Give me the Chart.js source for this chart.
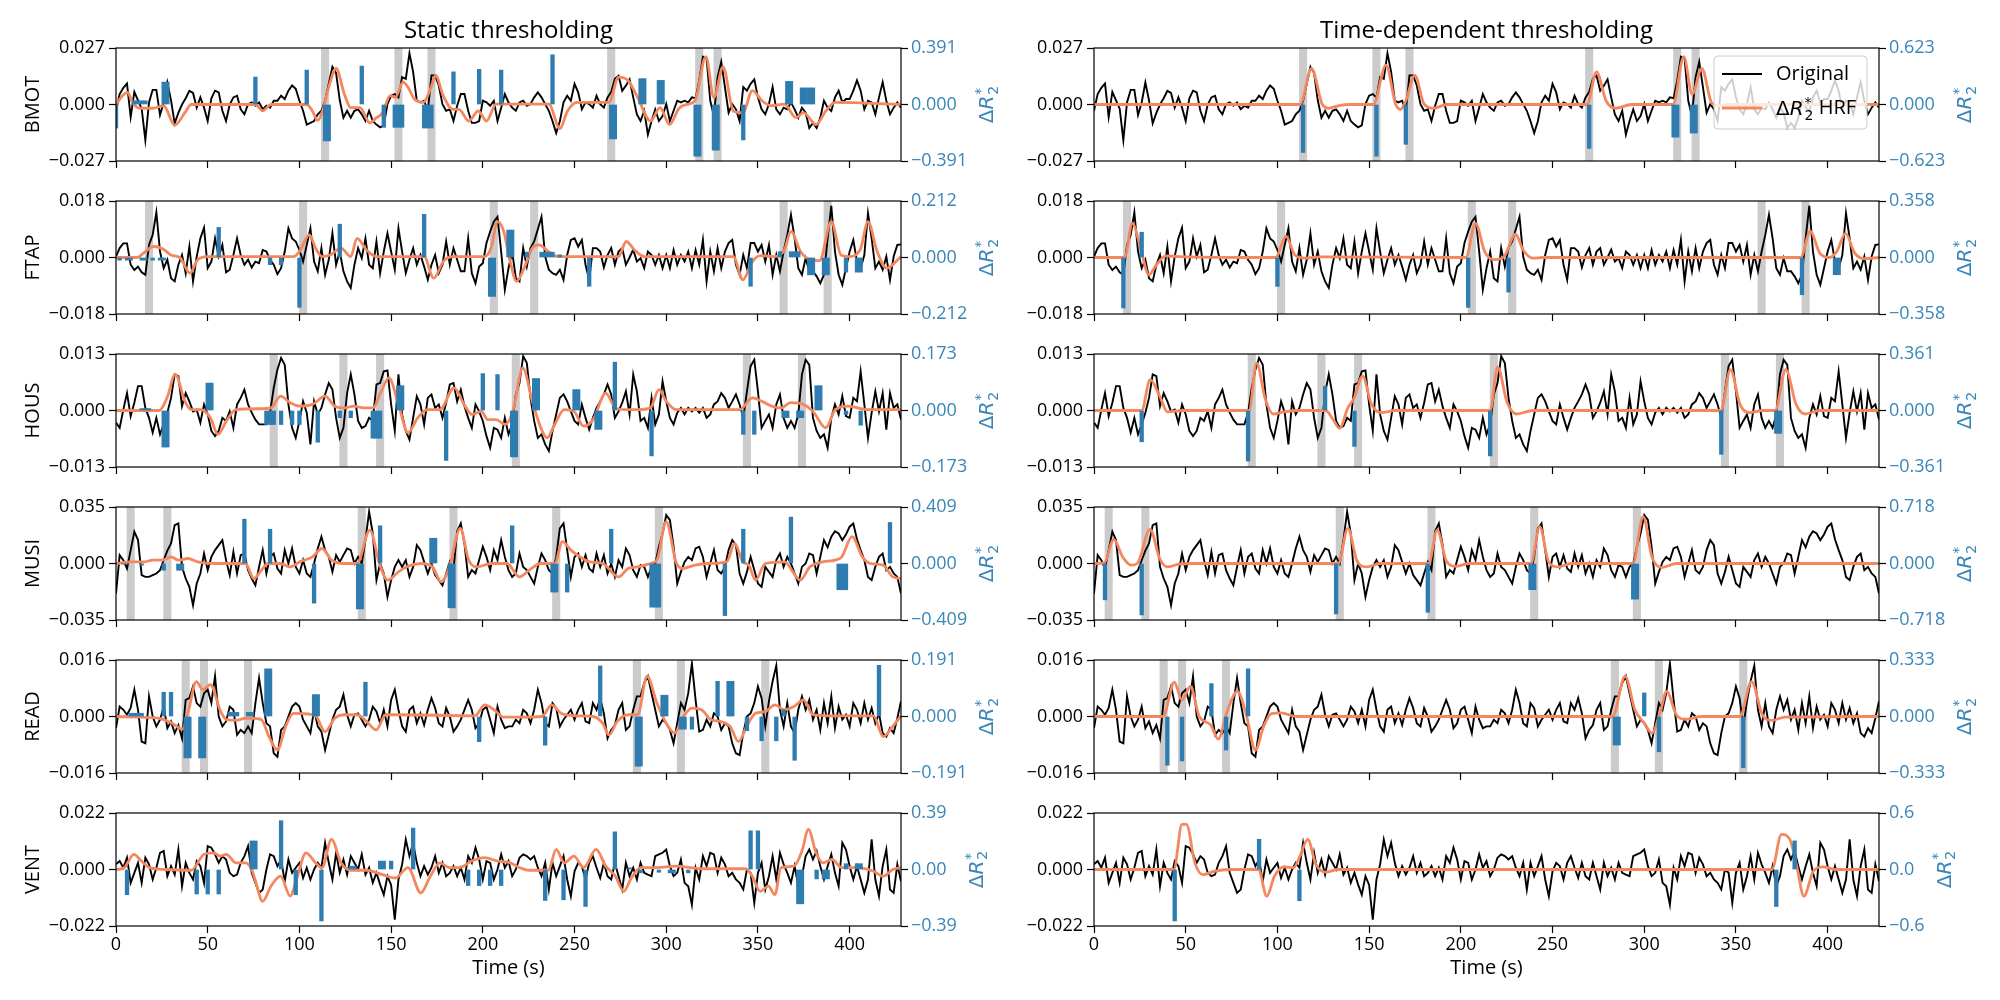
<!DOCTYPE html>
<html><head><meta charset="utf-8">
<script src="https://cdn.jsdelivr.net/npm/chart.js@4.4.1/dist/chart.umd.min.js"></script>
<style>
html,body{margin:0;padding:0;background:#fff;}
#wrap{position:relative;width:2000px;height:1000px;overflow:hidden;background:#fff;}
#wrap canvas{position:absolute;}
</style></head><body><div id="wrap"></div>
<script>
// ---------------- data (original signals & HRF in units of 1e-3) ----------------
const UNIT = 1e-3;
const TR = 2;
const tMax = 428;
const timeTicks = [0, 50, 100, 150, 200, 250, 300, 350, 400];
const rowNames = ['BMOT', 'FTAP', 'HOUS', 'MUSI', 'READ', 'VENT'];
const panelTitles = ['Static thresholding', 'Time-dependent thresholding'];

const leftLims = [0.027, 0.018, 0.013, 0.035, 0.016, 0.022];
const leftTickLabels = [
  ['\u22120.027', '0.000', '0.027'], ['\u22120.018', '0.000', '0.018'], ['\u22120.013', '0.000', '0.013'],
  ['\u22120.035', '0.000', '0.035'], ['\u22120.016', '0.000', '0.016'], ['\u22120.022', '0.000', '0.022']];
const staticLims = [0.391, 0.212, 0.173, 0.409, 0.191, 0.39];
const staticTickLabels = [
  ['\u22120.391', '0.000', '0.391'], ['\u22120.212', '0.000', '0.212'], ['\u22120.173', '0.000', '0.173'],
  ['\u22120.409', '0.000', '0.409'], ['\u22120.191', '0.000', '0.191'], ['\u22120.39', '0.00', '0.39']];
const timeLims = [0.623, 0.358, 0.361, 0.718, 0.333, 0.6];
const timeTickLabels = [
  ['\u22120.623', '0.000', '0.623'], ['\u22120.358', '0.000', '0.358'], ['\u22120.361', '0.000', '0.361'],
  ['\u22120.718', '0.000', '0.718'], ['\u22120.333', '0.000', '0.333'], ['\u22120.6', '0.0', '0.6']];

const bmotOrig = [
-3,5,8,10,-6,6,2,-2,-17,1,
7,7,-5,1,10.5,2,-9,-4,0,3,
6.5,5.5,-1.5,3.4,-1.5,-7.9,3,6.6,5.8,-3,
-7.9,0,3.4,4.2,-2.3,-4.7,0.2,1,-0.6,1,
-2.3,-0.6,-1.5,1.8,1.8,4.2,2.6,6.6,9.1,7.5,
1.8,-3,-9.6,-8.8,-7.9,-4.7,-3,1.8,9.9,18,
15,2,-6.3,-3,-6.3,-3,-2.3,-4.7,-7.9,-3,
-7.9,-9.6,-10.9,-10,0.2,4.2,5,3.4,13.1,12.3,
24.5,15.6,1.8,1,1.8,-3,13.9,13.9,9.1,0.2,
-3,-2.3,-7.9,-0.6,5,5,-3,-8.8,-8.8,-7.9,
1.8,1,-0.6,1.8,-7.9,-1.5,5,1,-1.5,-3,
1,1.8,-0.6,0.2,3.4,5.8,3.4,0.2,-3,-8,
-13.6,-8,1,4.2,1.8,9.9,5.8,-2.3,1,0.2,
-1.5,4.2,0.2,-1.5,3.4,6,12.3,13.8,6.6,9,
12,3.4,-4.7,-7.9,-3,-14.4,-7.9,-2.3,-7.9,-5.5,
0.2,-7.9,-3,1.8,1,1.8,1,3.4,3,11.5,
22.9,22,1.8,-5.5,13.1,20.4,8.3,-3.9,0.2,-2.3,
-7.9,8.3,6.6,9.9,12,3.4,-2.3,-4.7,0.2,8.3,
-2.3,-4.7,-1.5,-2.3,1,-2.3,-6.3,-1.5,-3.9,-11.2,
-8.8,-11.2,-6.3,1.8,-1.5,-3.1,3.4,6.6,1,2.6,
2.6,6.6,11.5,6.6,-2.3,1.8,1,-4.7,3.4,10.7,
1.8,-4.7,-1.5,1,-1.5];

const ftapOrig = [
0.3,3,4.5,4.5,-2.3,-4,-2.9,-4.7,-5.5,4,
7.2,14.4,1.9,-3.4,-0.7,-6.6,-7.6,-2.3,0.8,-5,
3.5,-7.6,0.3,6.1,9.5,-3.4,-1.3,6.1,0.3,4,
-4.7,-3.9,0.8,6.1,0.8,-2.3,-0.7,-3.2,-1.3,-1.8,
2.4,1.9,-0.7,-2.3,-5.3,-3.4,1.9,9.3,6.1,5.1,
2.4,-1.3,4,9.3,-1.3,-4.4,3,-5.5,-0.7,7.7,
-2.3,1.9,-4.4,-7.6,-9.7,-2.3,3,-0.2,6.1,-2.3,
-3.4,5.1,-5,1.9,7.7,1.9,-3.9,9.3,1.9,-5,
-0.7,3,-2.3,0.8,-2.9,-7.1,-2.3,0.8,-5,-2.3,
5.1,-2.3,3,-0.7,-4.4,-4.4,6.1,-5,-8.2,-2.9,
-1.8,4.6,8.3,11.4,13,1.9,-10.3,-3.4,1.9,-6.6,
-7.6,3,-2.9,3,5.1,9,13,0.3,-3.9,-5,
-5.5,-3.9,-7.1,0.8,5.6,6.1,3.5,5.6,-2.3,-7.1,
3,3,1.9,-3.2,0.8,3,-2.3,1.9,3,-2.3,
0,2.5,-1.3,-0.2,-3.4,1.9,0.8,-2.3,0.8,-3.4,
0.8,-3.4,2.4,-2.3,0.8,-1.3,1.9,-3.4,2.4,-2.3,
5.6,-7.6,1.9,-4.4,3,-3.4,1.9,4.6,5.6,-2.3,
-5.5,0.8,-3.4,4.6,4.6,1.9,4,-1.3,4,-5.5,
0.8,-4.4,1.9,7.2,13.6,6.1,-3.4,-5.5,-0.2,-4.4,
-4.4,-6,-8.2,-5.5,6.1,16.5,1.9,-5.5,-8.7,-3.4,
1.9,5.6,-1.3,-3.4,0.8,14.1,6.1,-3.4,-1.3,-3.9,
0.3,-7.1,0.3,4,4.2];

const housOrig = [
-2.8,-4,0.2,4,-1.3,1.8,5.6,5.6,0.6,-1.7,
-5.1,-1.7,-5.5,-3.2,-0.5,2.9,8.3,7.9,1,4,
2.1,-0.2,0.2,-2.8,1.4,-0.9,-4.7,-5.9,-4.7,-1.7,
-2.4,-0.2,-4,1.4,2.9,4.8,1.4,-0.5,-2.1,-3.2,
-3.2,-3.2,-0.5,5.2,9.4,12.1,10.5,1.4,-4,-6.3,
-2.4,2.1,-0.5,-7.8,2.1,-0.9,0.6,3.7,6.3,4.8,
-1.7,-6.3,-4,4,8.3,3.7,-2.4,-4,-3.6,-1.7,
-2.4,6,6.3,9,9.2,1.4,-4.7,8.3,-0.9,-4.7,
-6.7,-1.7,3.3,1.4,-3.2,2.9,3.7,0.6,1.4,-1.7,
1.8,6,6.3,2.1,4.8,1,-1.7,-4,1.4,-0.2,
-2.4,-5.9,-8.6,-4,-4.4,-6.3,-1.7,-5.5,-3.2,3.7,
6.3,12.5,10.9,2.9,-2.4,-6.3,-5.5,-7.8,-9.3,-4.7,
-0.9,2.9,3.7,2.1,-0.2,-2.4,-3.2,1.4,-1.7,-4.4,
-1.7,0.6,2.1,3.7,6,3.7,-1.7,-0.2,1.8,4.4,
-0.9,8.3,4.4,-2.4,-1.7,-4,2.9,-3.2,-0.9,6.7,
2.1,-1.7,-3.2,-0.5,0.6,-0.9,0.6,-0.2,0.6,-0.5,
0.6,-1.7,-0.9,1.4,2.1,4,2.9,0.6,2.1,3.7,
1.4,-1.7,4.4,10.2,11.7,4.4,-4,-2.4,-0.9,-4,
1.4,3.7,-1.7,-4,-2.4,-4,-0.9,8.3,11.7,10.5,
-1.7,-4.7,-6.3,-5.5,-8.6,-1.7,1.4,-0.9,3.3,-1.3,
-1.7,2.9,2.1,9,1.4,-6.3,-0.5,4.4,-0.2,4,
-4.4,4,0.6,1.4,-2.1];

const musiOrig = [
-18.6,5.2,2.1,-3.1,8.3,19.7,14.5,-7.2,-8.3,-8.3,
-7.2,-6.2,-4.1,2,8,12.4,23.8,24.8,-2.1,-9.3,
-14.5,-25.9,-12.4,-6.2,6.2,-4.1,4.1,8.3,11.4,14.5,
2.1,-7.2,7.2,-6.2,5.2,6.2,-4.1,-9.3,-13.5,-2.1,
8.3,-6.2,4.1,6.2,-3.1,-6.2,8.3,0,9.3,-2.1,
-6.2,2.1,-6.2,-8.3,0,9.3,16.6,8.3,4.1,-5.2,
5.2,1,5.2,9.3,8.3,0,4.1,0,14.5,32.1,
18.6,-10.3,0,-6.2,-20.7,-10.3,-2.1,2.1,-2.1,2.1,
-8.3,-2.1,11.4,8.3,1,-6.2,0,-7.2,-10.3,-13.5,
-6.2,1,-4.1,20,24.8,12,-8.3,-4.1,-6.2,2.1,
10.4,4.1,-4.1,8.3,2.1,14.5,4.1,-4.1,-8.3,-6.2,
6.2,-2.1,-4.1,-8.3,-12.4,-2.1,6.2,2.1,-4.1,-6.2,
4.1,21.7,24.8,8.3,-8.3,4.1,6.2,-2.1,5.2,-3.1,
-5.2,6.2,-2.1,5.2,-6.2,0,-8.3,2.1,-2.1,9.3,
5.2,-4.1,-8.3,-1,-2.1,-8.3,-2.1,0,10.4,18.6,
30,27,10.4,-12.4,-5.2,1,4.1,2.1,9.3,10.4,
4.1,-8.3,0,8.3,-4.1,-6.2,-2.1,8.3,14.5,11.4,
-6.2,-12.4,-5.2,4.1,-4.1,-12.4,-14.5,-2.1,-5.2,-8.3,
2.1,6.2,-2.1,4.1,0,-6.2,-12.4,-2.1,0,6.2,
5.2,-6.2,4.1,14.5,10,16.6,20,18.6,14.5,18,
22.8,24.8,15,8.3,2.1,-8.3,-10.3,-2.1,4.1,6.2,
-4.1,-2.1,-6.2,-8.3,-18.6];

const readOrig = [
-3.3,2.8,1.9,0.5,2.4,7.6,1.9,-7.1,-7.6,5.7,
0,-2.8,-0.9,2.8,-3.3,-1.4,-4.7,-2.4,-6.2,4.7,
5.2,8.5,3.8,2.8,6.6,7.6,3.8,11.4,0,-2.8,
-1.4,2.8,1.9,-5.2,-3.8,-4.7,-2.8,-4.7,3.8,10.9,
3.8,-1.9,-2.8,-10.4,-11.4,-3.8,-2.8,0,2.8,3.8,
2.8,-0.9,-2.8,-4.7,1.9,-2.8,-4.3,-9.5,-5.2,-0.9,
1.9,2.8,6.2,0.5,-2.8,0.5,0.9,-0.9,-2.8,-0.9,
2.8,1.4,-1.9,1.9,-2.8,4.7,7.6,1.9,-2.8,-4.3,
1.9,2.8,-1.9,0.9,-2.4,1.9,5.2,2.4,-1.9,-2.8,
2.4,0,-4.3,-2.8,-0.9,1.9,4.7,1.9,-3.3,-1.9,
1.9,2.8,-0.9,-4.7,2.8,-0.9,-3.3,-2.8,-2.8,-0.9,
-1.9,1.9,0.9,-1.9,1.9,7.6,3.8,-1.9,-2.8,3.8,
2.4,-2.8,-0.9,0.5,1.9,-0.9,1.9,3.8,-1.4,-1.9,
3.8,1.9,5.2,0.9,-6.2,-3.8,-2.4,1.9,3.8,-3.8,
-2.8,1.9,5.7,5.7,9.5,11.4,6.6,1.9,-2.8,-0.9,
-1.9,-3.8,-7.6,-1.9,3.8,1.9,6.6,15,4.7,-4.3,
-3.8,-0.9,-2.8,0.9,0,-3.8,-1.9,-2.8,-7.6,-10.4,
-10.9,-4.7,0,0.9,3.8,8.5,5.2,-2.8,4.3,10,
14.4,1.9,-2.8,3.8,-2.8,-4.7,1.9,5.7,1.9,4.7,
-0.9,1.9,-3.8,3.8,-1.9,5.7,-3.3,2.8,-0.9,0.5,
-2.8,3.8,1.9,-1.9,3.8,-0.9,2.4,-1.9,0.9,-4.7,
-5.7,-3.3,-4.7,-0.5,4.3];

const ventOrig = [
2,3.3,0.7,4.6,-5.2,-1.3,2.6,-5.2,4.6,2,
-3.9,0.7,6.5,7.2,-2.6,1.3,-2,7.8,-6.5,2.6,
-1.3,-3.9,3.3,1.3,-5.2,9.1,8.5,5.9,2.6,5.2,
3.9,-1.3,-2.6,-2,2.6,5.2,9.1,-1.3,-5.2,-9.1,
-7.8,0,5.9,5.2,1.3,3.9,-4.6,3.9,-1.3,0.7,
2.6,-3.3,0.7,-3.9,0,2.6,0.7,10.4,2.6,-3.9,
6.5,-1.3,3.9,-2,5.2,2.6,0,5.9,-2,0.7,
-5.2,-1.3,-5.9,-9.8,-2.6,-6,-19.5,-3.9,2,11.7,
5.2,10.4,2.6,-2.6,1.3,-2,0.7,5.2,-1.3,2.6,
-2.6,-1.3,1.3,-2.6,0.7,-3.9,5.2,2.6,8.5,3.9,
-3.9,3.3,2.6,-3.9,0,5.9,0.7,3.3,-2.6,0,
4.6,5.9,5.2,3.9,5.2,0.7,-2.6,2.6,-7.8,2.6,
-2.6,1.3,5.2,-3.9,-10.4,-0.7,2.6,1.3,-3.9,2.6,
5.2,0.7,-3.3,2.6,-2.6,-3.9,2.6,-2.6,-7.8,2.6,
-2.6,0.7,-3.9,2.6,-1.3,-2,-2.6,5.2,5.9,6.5,
7.8,1.3,-2.6,-1.3,3.9,-5.2,-6.5,-13.7,0.7,-3.9,
5.2,1.3,6.5,5.9,-1.3,4.6,2,-2.6,-1.3,-3.9,
-5.2,-7.8,0,-1.3,-13,-1.3,2.6,-7.8,-2.6,5.2,
-3.9,6.5,2,-1.3,-5.2,1.3,-6.5,-2.6,5.2,7.8,
3.9,7.2,1.3,-3.9,1.3,5.9,-1.3,-6.5,10.4,7.8,
1.3,-3.9,1.3,-3.9,-9.1,-3.9,11.7,-3.9,-10.4,1.3,
7.8,-7.8,-9.1,2,-4.6];

// HRF-convolved curves: [time (s), value (1e-3)]
const bmotHrfStatic = [[0,0],[3.5,4.2],[6.3,5.8],[9,1],[13,-1.8],[20,-1.8],[26,-0.6],[32,-9.9],[37.6,-3.9],[41,0],[76,0],[80,-3],[84.5,0],[104,0],[107,-3],[110,-7.6],[113,-2],[116,8.3],[120,17.2],[124.5,5],[128,-1.5],[133,-1.5],[138.4,-8.8],[142,-6.3],[145.3,-4],[149.5,4.2],[152.3,3.4],[156.5,10.7],[159.2,8.3],[162.7,2.6],[167.6,1],[171.8,8.3],[174.2,13.9],[178.4,4.2],[183.6,-2.3],[187,-2.3],[192.3,-7.9],[197.5,-3.1],[202,-7.9],[207.2,0.2],[236,0.2],[242,-11.5],[246.2,-3.1],[251.4,1],[268.8,1],[274,13.1],[279.2,11.5],[284.4,3.4],[291.4,-7.9],[296.6,-1.5],[301.8,-9.6],[307,-1.8],[312.2,0.2],[315.7,1.8],[321.6,22.9],[326,3.4],[331,18],[336.6,-3.1],[341.8,-3.9],[347,6.6],[352.2,1.8],[357.4,-0.6],[364.4,0.2],[370.7,-6.3],[374.8,-3.9],[381.7,-9.6],[387,-3.1],[392.2,1],[428,0]];
const bmotHrfTime = [[0,0],[112.3,0],[118.6,17.2],[124.5,0],[128,-1.8],[133,-0.6],[140,0],[152.3,0],[159.2,18.8],[164.5,0],[167.2,-2.3],[170,1.8],[174.9,13.9],[180,0.2],[185.3,-1.8],[192.3,0],[268.8,0],[274,15.6],[279.2,1.8],[284.4,-1.8],[293,0],[315.7,0],[321.6,22.9],[326.1,5],[331.4,17.2],[336.6,1],[340,-0.6],[345,0],[428,0]];
const ftapHrfStatic = [[0,0],[11.5,0],[16,1.9],[20.2,3.5],[25.4,2.8],[30,0.8],[35.1,-0.2],[40.3,-5],[44.5,-0.7],[49.7,0.3],[96.7,0.3],[100,1.9],[105.4,7.2],[108.8,3],[112.3,0.3],[116.8,0.8],[122.7,3],[128,0.3],[131.4,6.1],[136.6,2.4],[141.9,0.3],[168,0.3],[173.2,-6.6],[178.4,-1.3],[183.6,0.3],[201,0.3],[204.5,3],[208,11.4],[211.4,8.3],[214.9,-1.3],[218.4,-7.6],[222.5,-3.4],[227,3],[230.5,4],[235.7,1.9],[241,0.3],[274,0.3],[278.2,5.1],[282.7,2.4],[288,0.3],[336.6,0.3],[341.8,-7.1],[347,-1.3],[351.2,0.6],[359.2,0.3],[364.4,2.4],[368,8.3],[373.2,1.9],[378.4,-0.7],[383.6,-1],[390,11.4],[395.3,0.8],[399.4,0.3],[405.7,2.4],[410,11.4],[415,1.9],[420.2,-3.4],[428,0.3]];
const ftapHrfTime = [[0,0],[16.7,0],[20.9,10.9],[25.4,3],[29.9,-5.5],[34,-2.3],[39.3,0.5],[46.2,0.3],[99,0],[104.7,6.7],[109.5,0.8],[115.1,-0.2],[122.7,0.2],[202.7,0],[208,10.9],[213,1.9],[218.4,-0.7],[223.6,0.3],[229.8,7.4],[234,2.4],[239.2,-0.2],[245,0],[385.3,0],[390.5,8.3],[395.7,1.4],[401,0],[405,1.9],[409.7,7.7],[414.8,1.4],[420,-0.4],[428,0]];
const housHrfStatic = [[0,0],[23.6,0],[27.8,2.9],[32.3,8.3],[37.6,2.1],[41,0.2],[46.2,0.2],[51.5,-1.7],[55.6,-5.5],[60.2,-2.4],[65.4,0.2],[79.3,0.4],[84.5,0.6],[89.7,3.3],[95,1.8],[100.1,1],[107.1,1.4],[114,3.3],[119.3,1],[124.5,0.6],[129.7,1],[134.9,0.6],[140.1,0.6],[144.6,4.4],[148.8,7.5],[154,1.4],[159.2,-5.1],[164.5,-1.7],[169.7,0.2],[176.6,0.2],[184.3,5.2],[189.8,1.4],[194,-0.9],[199.2,-0.2],[202.7,-2.1],[207.2,-2.1],[212.4,-3.2],[216.6,0.2],[221.8,9.8],[227,2.1],[232.3,-4.7],[235,-6.3],[239.2,-3.2],[244.4,0.2],[249.7,-0.2],[254.9,-3.6],[260.1,-2.1],[267,4],[272.3,0.6],[277.5,0.2],[284.4,0.2],[291.4,0.6],[296,4.8],[300,2.1],[305.3,0.2],[340,0.2],[347,2.9],[352.2,2.1],[357.4,1],[362.5,0.6],[367.9,1.8],[374.8,1.4],[380,-0.2],[387,-4],[392.2,0.2],[399.2,1],[409.6,0.2],[428,0.2]];
const housHrfTime = [[0,0],[26,0],[30.6,7.1],[35.8,3.3],[40,-0.3],[48,0],[84.5,0],[88.7,10.9],[93.2,2.9],[97.7,-0.8],[103.6,-0.3],[112.3,0],[126.2,0],[130.4,-2.1],[133.9,-4.1],[138.4,0.6],[141.9,2.9],[146.4,7.9],[151.3,1.4],[156.5,-0.5],[164.5,0],[216,0],[220,10],[225.3,1.8],[230.5,-0.8],[239.2,0],[341.8,0],[347,9.4],[352.2,1.4],[357.4,-0.5],[364.4,0],[371.3,0],[377.2,9.4],[382.8,1.4],[387.7,-0.8],[395.7,0],[428,0]];
const musiHrfStatic = [[0,0],[8,1],[15,1],[20.2,2.1],[25.4,2.1],[30,4.1],[34,2.1],[39.3,3.1],[44.5,1],[55,0],[70.6,0],[75.1,-9.3],[79.3,-4.1],[82.8,0],[89.7,0],[95,-2.1],[100.1,1],[107.1,4.1],[112.3,9.3],[117.5,2.1],[124.5,0],[131.4,0],[138.4,20.7],[143.6,0],[148.1,-10.3],[154,-5.2],[159.2,-1.7],[166.2,0],[172.5,-2.1],[177.3,-11.4],[181.8,-2.1],[187.7,21.7],[192.3,2.1],[196.8,-2.1],[204.5,0],[213.1,0],[220.1,-8.3],[225.3,-4.1],[231.6,0],[239.2,0],[243.4,13.5],[248,8.3],[253.1,4.1],[258.3,1],[265.3,0],[274,-8.3],[279.2,-3.1],[284.4,-2.1],[291.4,0],[294.9,2.1],[300,25.9],[305.3,1],[308.8,-3.1],[315.7,-1],[322.7,0],[333,1],[337.3,12.4],[341.8,1],[345,-1],[348.7,-10.3],[354,0],[364.4,1],[373.1,-10.3],[378.3,-2.1],[385.3,1],[392.2,2.1],[395.7,4.1],[401.3,16.6],[406.9,4.1],[411.3,0],[418.3,-1],[423.5,-8.3],[428,-9.3]];
const musiHrfTime = [[0,0],[5.6,0.4],[10.8,14.9],[15.6,4.1],[20.2,-1],[23.6,0],[30.6,21.1],[35.8,3.1],[40,-2.1],[46.2,-0.4],[53.2,0],[133.2,0],[138.4,21.7],[143.6,1],[148.8,-2.1],[155.8,0],[182.5,0],[187.1,20.7],[192.3,1],[197.5,-1.7],[204.5,0],[238.2,0],[243,22.8],[247.9,1],[253.1,-2.1],[260.1,0],[293.8,0],[299.4,29],[304.2,4.1],[309.5,-2.5],[317.5,0],[428,0]];
const readHrfStatic = [[0,0],[13.2,-0.2],[23.6,-0.5],[30.6,-1.9],[36.2,-3.6],[39.6,1.9],[43.8,9.9],[47.3,7.6],[51.5,9],[56.7,1.9],[60.2,-0.9],[65.4,-1.1],[70.6,-0.5],[74,-0.5],[79.3,-0.9],[83.4,-5.7],[88,-9.5],[92.5,-2.8],[96.7,0.9],[101.9,0.8],[108.8,0.2],[114,-4.3],[119.3,-0.5],[124.5,0.5],[131.4,0.5],[136.6,-1.4],[141.9,-3.8],[147.1,0.5],[154,0.5],[195.8,0.2],[201,3.3],[206.2,1.9],[211.4,-0.2],[221.8,-0.2],[232.3,0],[237.5,3.3],[242.7,0.9],[249.7,0.2],[260.1,0],[265.3,-1.9],[268.8,-5.2],[273.3,-1.4],[279.2,0.5],[284.4,0.5],[289.6,11.4],[294.9,3.8],[300,-1.9],[304.6,-4.7],[308.8,-0.5],[314,2.4],[319.2,1.9],[324.4,-0.9],[329.6,-1.4],[334.8,-2.8],[339.4,-7.1],[344.2,-2.4],[348.7,0.9],[354,1.4],[359.2,3.3],[364.4,1.9],[369.6,2.8],[374.8,4.7],[380,0.5],[388.7,0.2],[413,0.2],[418.3,-5.7],[423.5,-2.8],[428,0.2]];
const readHrfTime = [[0,0],[37.6,0],[43.8,9.7],[48,4.7],[52.5,8.5],[57.4,0],[63.6,-2.4],[67.8,-6.4],[72.3,1],[78.2,7.1],[82.8,1],[88,-9.5],[92.5,-2.8],[96.7,0.8],[101.9,1],[110.6,0],[282.7,0],[289.6,11.4],[294.9,1.9],[300.1,-1.9],[304.2,-4.7],[308.8,1.4],[312.2,7.1],[317.5,0.5],[322.7,-0.8],[331.4,0],[352.2,0],[358.5,9.9],[364.4,0.5],[369.6,-1.1],[376.6,-0.2],[428,0]];
const ventHrfStatic = [[0,0],[4.5,0.7],[9.7,5.9],[13.9,3.3],[18.4,0.7],[27.1,0],[41,-0.3],[48,5.9],[53.2,6.5],[56.7,5.2],[60.2,5.9],[65.4,2.6],[70.6,2.6],[74,0],[75.8,-3.9],[80,-12.4],[84.5,-6.5],[89.7,-2.6],[95,-10.4],[98.4,-3.9],[103.6,6.5],[108.8,2.6],[112.3,0.7],[117.5,11.7],[122.7,2.6],[128,-0.3],[136.6,-0.3],[145.3,-2],[152.3,-3.3],[159.2,0.7],[166.2,-9.1],[171.4,-2.6],[176.6,2.6],[181.8,0.7],[187,0.7],[194,3.3],[201,4.6],[208,3.3],[215,2.6],[220.1,0.7],[225.3,-0.3],[235.7,-0.3],[240,7.8],[244.4,2.6],[249.7,5.2],[254.9,0.7],[261.8,7.8],[267,1.3],[272.3,-2.6],[276.8,-8.5],[281,-3.3],[286.2,0.7],[294.9,0.7],[305.3,1.3],[319.2,0.3],[343.4,0.3],[346.9,-2.6],[351.2,-8.5],[355.7,-6.5],[359.2,-9.8],[362.6,0.7],[369.6,1.3],[374,7.2],[377.5,15.6],[381.7,6.5],[385.3,2.6],[390.5,3.9],[395.7,0.7],[404.4,0.7],[413,-0.7],[418.3,-2.6],[423.5,0],[428,0.7]];
const ventHrfTime = [[0,0],[43.5,0],[48,17.6],[50.4,17.6],[55,2.6],[59.5,-2],[65.4,-0.7],[74,0],[89.7,0],[94.2,-10.4],[98.4,-2.6],[103.6,1],[108.8,0.7],[112.3,5.2],[116.5,11.7],[121,2],[126.2,-1],[133.2,0],[369.6,0],[374.8,13.7],[379.4,11.7],[383.5,0],[387,-10.4],[392.2,-0.7],[397.4,1],[404.4,0],[428,0]];

// Delta R2* estimates: [time (s), value]
const bmotBarsStatic = [[0,-0.163],[10,0.026],[12,0.026],[14,0.026],[16,0.026],[26,0.155],[28,0.155],[76,0.19],[104,0.238],[114,-0.252],[116,-0.252],[134,0.266],[146,-0.158],[152,-0.158],[154,-0.158],[156,-0.158],[168,-0.163],[170,-0.163],[172,-0.163],[184,0.226],[198,0.243],[210,0.238],[238,0.344],[270,-0.238],[272,-0.238],[286,0.179],[288,0.179],[296,0.167],[298,0.167],[316,-0.358],[318,-0.358],[326,-0.316],[328,-0.316],[342,-0.245],[366,0.16],[368,0.16],[374,0.115],[376,0.115],[378,0.115],[380,0.115]];
const bmotBarsTime = [[114,-0.529],[154,-0.57],[170,-0.439],[270,-0.484],[316,-0.36],[318,-0.36],[326,-0.315],[328,-0.315]];
const ftapBarsStatic = [[2,-0.01],[6,-0.01],[8,-0.01],[14,-0.01],[16,-0.01],[20,-0.01],[24,-0.01],[26,-0.01],[56,0.113],[84,-0.027],[90,-0.027],[100,-0.187],[122,0.125],[168,0.162],[204,-0.146],[206,-0.146],[214,0.103],[216,0.103],[224,0.02],[232,0.02],[234,0.02],[236,0.02],[238,0.02],[242,0.01],[258,-0.108],[346,-0.108],[362,0.022],[368,0.022],[370,0.022],[372,0.022],[378,-0.065],[380,-0.065],[386,-0.065],[388,-0.065],[398,-0.055],[404,-0.055],[406,-0.055]];
const ftapBarsTime = [[16,-0.32],[26,0.16],[100,-0.183],[204,-0.316],[226,-0.219],[386,-0.236],[404,-0.109],[406,-0.109]];
const housBarsStatic = [[14,0.006],[16,0.006],[18,0.006],[26,-0.112],[28,-0.112],[50,0.084],[52,0.084],[82,-0.043],[84,-0.043],[86,-0.043],[90,-0.043],[96,-0.043],[100,-0.043],[110,-0.097],[122,-0.022],[128,-0.022],[140,-0.085],[142,-0.085],[144,-0.085],[154,0.076],[156,0.076],[180,-0.153],[200,0.113],[208,0.11],[216,-0.142],[218,-0.142],[228,0.098],[230,0.098],[250,0.064],[252,0.064],[262,-0.058],[264,-0.058],[272,0.148],[292,-0.139],[342,-0.073],[348,-0.073],[364,-0.022],[366,-0.022],[372,-0.022],[374,-0.022],[382,0.076],[384,0.076],[398,-0.012],[406,-0.045]];
const housBarsTime = [[26,-0.2],[84,-0.323],[126,0.155],[142,-0.229],[216,-0.29],[342,-0.28],[372,-0.146],[374,-0.146]];
const musiBarsStatic = [[4,-0.005],[6,-0.005],[14,-0.012],[26,-0.049],[34,-0.049],[36,-0.049],[70,0.321],[84,0.248],[108,-0.287],[132,-0.329],[134,-0.329],[144,0.273],[172,0.183],[174,0.183],[182,-0.321],[184,-0.321],[216,0.273],[238,-0.207],[240,-0.207],[246,-0.207],[270,0.248],[292,-0.316],[294,-0.316],[296,-0.316],[332,-0.377],[342,0.248],[368,0.336],[394,-0.19],[396,-0.19],[398,-0.19],[422,0.297]];
const musiBarsTime = [[6,-0.462],[26,-0.654],[132,-0.641],[182,-0.62],[238,-0.333],[240,-0.333],[294,-0.453],[296,-0.453]];
const readBarsStatic = [[8,0.011],[10,0.011],[12,0.011],[14,0.011],[26,0.082],[30,0.082],[38,-0.14],[40,-0.14],[46,-0.14],[48,-0.14],[62,0.014],[64,0.014],[66,0.014],[72,0.014],[74,0.014],[82,0.161],[84,0.161],[108,0.074],[110,0.074],[136,0.116],[198,-0.085],[234,-0.097],[264,0.171],[284,-0.168],[286,-0.168],[298,0.072],[300,0.072],[308,-0.043],[310,-0.043],[314,-0.043],[328,0.119],[334,0.119],[336,0.119],[344,-0.048],[352,-0.082],[360,-0.082],[364,0.023],[370,-0.148],[416,0.173]];
const readBarsTime = [[40,-0.287],[48,-0.262],[64,0.194],[72,-0.198],[84,0.281],[284,-0.168],[286,-0.168],[300,0.139],[308,-0.208],[354,-0.301]];
const ventBarsStatic = [[6,-0.174],[44,-0.169],[50,-0.169],[56,-0.169],[74,0.197],[76,0.197],[90,0.337],[98,-0.174],[112,-0.355],[128,0.023],[130,0.023],[144,0.058],[146,0.058],[150,0.058],[162,0.286],[192,-0.111],[198,-0.111],[204,-0.111],[210,-0.111],[234,-0.214],[244,-0.209],[256,-0.255],[272,0.26],[280,0.012],[286,-0.023],[296,-0.019],[302,-0.023],[304,-0.023],[312,-0.023],[346,0.267],[350,0.267],[372,-0.237],[374,-0.237],[382,-0.065],[386,-0.065],[388,-0.065],[398,0.04],[404,0.04],[406,0.04]];
const ventBarsTime = [[44,-0.546],[90,0.321],[112,-0.332],[372,-0.393],[382,0.304]];

// shaded event windows (centre times, s)
const bmotSpans = [114, 154, 172, 270, 318, 328];
const ftapSpans = [18, 102, 206, 228, 364, 388];
const housSpans = [86, 124, 144, 218, 344, 374];
const musiSpans = [8, 28, 134, 184, 240, 296];
const readSpans = [38, 48, 72, 284, 308, 354];
const ventSpans = [];

// ---------------- style / layout ----------------
const BLACK = '#000000';
const ORANGE = '#f4875f';
const BLUE = '#2f7db0';
const BLUE_TEXT = '#3a86b8';
const SPAN_COLOR = 'rgba(140,140,140,0.45)';
const SPAN_HALF = 2.2;
const FONT = '"Open Sans", "DejaVu Sans", sans-serif';
const MATH_FONT = '"DejaVu Sans", sans-serif';
const TICK_SIZE = 18, LABEL_SIZE = 20, TITLE_SIZE = 24, LEGEND_SIZE = 20;
const PLOT_LEFT = [116, 1094], PLOT_W = 785, PLOT_H = 113;
const PLOT_TOP = [48, 201, 354, 507, 660, 813];
const AXIS_W = 130, PAD_TOP = 50;

const origs = [bmotOrig, ftapOrig, housOrig, musiOrig, readOrig, ventOrig];
const hrfs = [[bmotHrfStatic, bmotHrfTime], [ftapHrfStatic, ftapHrfTime], [housHrfStatic, housHrfTime],
              [musiHrfStatic, musiHrfTime], [readHrfStatic, readHrfTime], [ventHrfStatic, ventHrfTime]];
const bars = [[bmotBarsStatic, bmotBarsTime], [ftapBarsStatic, ftapBarsTime], [housBarsStatic, housBarsTime],
              [musiBarsStatic, musiBarsTime], [readBarsStatic, readBarsTime], [ventBarsStatic, ventBarsTime]];
const spans = [bmotSpans, ftapSpans, housSpans, musiSpans, readSpans, ventSpans];

const toSeries = vals => vals.map((v, i) => ({x: i * TR, y: v * UNIT}));
const toCurve = pairs => pairs.map(([t, v]) => ({x: t, y: v * UNIT}));
function toBars(pairs) {
  const n = Math.round(tMax / TR) + 1;
  const arr = [];
  for (let i = 0; i < n; i++) arr.push({x: i * TR, y: null});
  pairs.forEach(([t, v]) => { arr[Math.round(t / TR)].y = v; });
  return arr;
}

// mathtext-like ΔR2* (subscript 2, superscript *)
function deltaR(ctx, x, yBase, size, color, draw) {
  const ss = size * 0.7;
  ctx.font = `${size}px ${MATH_FONT}`; const wD = ctx.measureText('\u0394').width;
  ctx.font = `italic ${size}px ${MATH_FONT}`; const wR = ctx.measureText('R').width;
  ctx.font = `${ss}px ${MATH_FONT}`; const w2 = Math.max(ctx.measureText('2').width, ctx.measureText('*').width);
  if (draw) {
    ctx.fillStyle = color; ctx.textAlign = 'left'; ctx.textBaseline = 'alphabetic';
    ctx.font = `${size}px ${MATH_FONT}`; ctx.fillText('\u0394', x, yBase);
    ctx.font = `italic ${size}px ${MATH_FONT}`; ctx.fillText('R', x + wD, yBase);
    ctx.font = `${ss}px ${MATH_FONT}`;
    ctx.fillText('2', x + wD + wR + 1, yBase + size * 0.22);
    ctx.fillText('*', x + wD + wR + 1, yBase - size * 0.42);
  }
  return wD + wR + 1 + w2;
}

const wrap = document.getElementById('wrap');

function makePanel(r, c) {
  const bottomH = r === 5 ? 80 : 25;
  const W = PLOT_W + 2 * AXIS_W, H = PAD_TOP + PLOT_H + bottomH;
  const cv = document.createElement('canvas');
  cv.width = W; cv.height = H;
  cv.style.width = W + 'px'; cv.style.height = H + 'px';
  cv.style.left = (PLOT_LEFT[c] - AXIS_W) + 'px';
  cv.style.top = (PLOT_TOP[r] - PAD_TOP) + 'px';
  wrap.appendChild(cv);

  const lim = leftLims[r];
  const lim2 = c === 0 ? staticLims[r] : timeLims[r];
  const labels1 = leftTickLabels[r];
  const labels2 = c === 0 ? staticTickLabels[r] : timeTickLabels[r];
  const spanList = spans[r];

  const spanPlugin = {
    id: 'spans' + r + c,
    beforeDatasetsDraw(chart) {
      const {ctx, chartArea: a, scales: {x}} = chart;
      ctx.save();
      ctx.fillStyle = SPAN_COLOR;
      spanList.forEach(t => {
        const x1 = x.getPixelForValue(t - SPAN_HALF), x2 = x.getPixelForValue(t + SPAN_HALF);
        ctx.fillRect(x1, a.top, x2 - x1, a.bottom - a.top);
      });
      ctx.restore();
    }
  };

  const decoPlugin = {
    id: 'deco' + r + c,
    afterDatasetsDraw(chart) {
      const {ctx, chartArea: a} = chart;
      ctx.save();
      ctx.strokeStyle = BLACK; ctx.lineWidth = 1.2;
      ctx.strokeRect(a.left, a.top, a.right - a.left, a.bottom - a.top);
      const cy = (a.top + a.bottom) / 2;
      if (c === 0) {
        ctx.save();
        ctx.translate(a.left - 83, cy); ctx.rotate(-Math.PI / 2);
        ctx.fillStyle = BLACK; ctx.font = `${LABEL_SIZE}px ${FONT}`;
        ctx.textAlign = 'center'; ctx.textBaseline = 'middle';
        ctx.fillText(rowNames[r], 0, 0);
        ctx.restore();
      }
      ctx.font = `${TICK_SIZE}px ${FONT}`;
      const tw = Math.max(...labels2.map(s => ctx.measureText(s).width));
      const lx = a.right + 7 + 3 + tw + 10 + LABEL_SIZE * 0.45;
      ctx.save();
      ctx.translate(lx, cy); ctx.rotate(-Math.PI / 2);
      const wl = deltaR(ctx, 0, 0, LABEL_SIZE, BLUE_TEXT, false);
      deltaR(ctx, -wl / 2, LABEL_SIZE * 0.36, LABEL_SIZE, BLUE_TEXT, true);
      ctx.restore();
      if (r === 0) {
        ctx.fillStyle = BLACK; ctx.font = `${TITLE_SIZE}px ${FONT}`;
        ctx.textAlign = 'center'; ctx.textBaseline = 'middle';
        ctx.fillText(panelTitles[c], (a.left + a.right) / 2, a.top - 17);
      }
      if (r === 5) {
        ctx.fillStyle = BLACK; ctx.font = `${LABEL_SIZE}px ${FONT}`;
        ctx.textAlign = 'center'; ctx.textBaseline = 'middle';
        ctx.fillText('Time (s)', (a.left + a.right) / 2, a.bottom + 42);
      }
      if (r === 0 && c === 1) {
        const bx = a.right - 165, by = a.top + 8, bw = 153, bh = 73;
        ctx.fillStyle = 'rgba(255,255,255,0.8)';
        ctx.strokeStyle = '#cccccc'; ctx.lineWidth = 1;
        ctx.beginPath(); ctx.roundRect(bx, by, bw, bh, 4); ctx.fill(); ctx.stroke();
        ctx.lineCap = 'butt';
        ctx.strokeStyle = BLACK; ctx.lineWidth = 2;
        ctx.beginPath(); ctx.moveTo(bx + 8, by + 18); ctx.lineTo(bx + 48, by + 18); ctx.stroke();
        ctx.strokeStyle = ORANGE; ctx.lineWidth = 3;
        ctx.beginPath(); ctx.moveTo(bx + 8, by + 52); ctx.lineTo(bx + 48, by + 52); ctx.stroke();
        ctx.fillStyle = BLACK; ctx.font = `${LEGEND_SIZE}px ${FONT}`;
        ctx.textAlign = 'left'; ctx.textBaseline = 'middle';
        ctx.fillText('Original', bx + 62, by + 18);
        const w = deltaR(ctx, bx + 62, by + 52 + LEGEND_SIZE * 0.36, LEGEND_SIZE, BLACK, true);
        ctx.fillStyle = BLACK; ctx.font = `${LEGEND_SIZE}px ${FONT}`;
        ctx.textAlign = 'left'; ctx.textBaseline = 'middle';
        ctx.fillText(' HRF', bx + 62 + w, by + 52);
      }
      ctx.restore();
    }
  };

  new Chart(cv, {
    type: 'bar',
    data: {
      datasets: [
        {type: 'bar', data: toBars(bars[r][c]), yAxisID: 'y2', backgroundColor: BLUE,
         borderWidth: 0, barPercentage: 1, categoryPercentage: 1, grouped: false, order: 0},
        {type: 'line', data: toCurve(hrfs[r][c]), yAxisID: 'y', borderColor: ORANGE, borderWidth: 2.8,
         pointRadius: 0, cubicInterpolationMode: 'monotone', fill: false, order: 1},
        {type: 'line', data: toSeries(origs[r]), yAxisID: 'y', borderColor: BLACK, borderWidth: 1.9,
         pointRadius: 0, tension: 0, fill: false, order: 2}
      ]
    },
    options: {
      responsive: false, animation: false, devicePixelRatio: 1,
      layout: {padding: {top: PAD_TOP, left: 0, right: 0, bottom: 0}},
      plugins: {legend: {display: false}, tooltip: {enabled: false}, title: {display: false}},
      scales: {
        x: {
          type: 'linear', position: 'bottom', min: 0, max: tMax, offset: false,
          afterBuildTicks: s => { s.ticks = timeTicks.map(v => ({value: v})); },
          afterFit: s => { s.height = bottomH; },
          ticks: {display: r === 5, autoSkip: false, maxRotation: 0, color: BLACK, padding: 1,
                  font: {family: FONT, size: TICK_SIZE}, callback: v => String(v)},
          grid: {display: true, drawOnChartArea: false, drawTicks: true, tickLength: 7,
                 tickColor: BLACK, tickWidth: 1.2, offset: false},
          border: {display: false}
        },
        y: {
          type: 'linear', position: 'left', min: -lim, max: lim,
          afterBuildTicks: s => { s.ticks = [-lim, 0, lim].map(v => ({value: v})); },
          afterFit: s => { s.width = AXIS_W; },
          ticks: {autoSkip: false, color: BLACK, padding: 4, font: {family: FONT, size: TICK_SIZE},
                  callback: (v, i) => labels1[i]},
          grid: {display: true, drawOnChartArea: false, drawTicks: true, tickLength: 7,
                 tickColor: BLACK, tickWidth: 1.2},
          border: {display: false}
        },
        y2: {
          type: 'linear', position: 'right', min: -lim2, max: lim2,
          afterBuildTicks: s => { s.ticks = [-lim2, 0, lim2].map(v => ({value: v})); },
          afterFit: s => { s.width = AXIS_W; },
          ticks: {autoSkip: false, color: BLUE_TEXT, padding: 3, font: {family: FONT, size: TICK_SIZE},
                  callback: (v, i) => labels2[i]},
          grid: {display: true, drawOnChartArea: false, drawTicks: true, tickLength: 7,
                 tickColor: BLACK, tickWidth: 1.2},
          border: {display: false}
        }
      }
    },
    plugins: [spanPlugin, decoPlugin]
  });
}

for (let r = 0; r < 6; r++) for (let c = 0; c < 2; c++) makePanel(r, c);
</script>
</body></html>
